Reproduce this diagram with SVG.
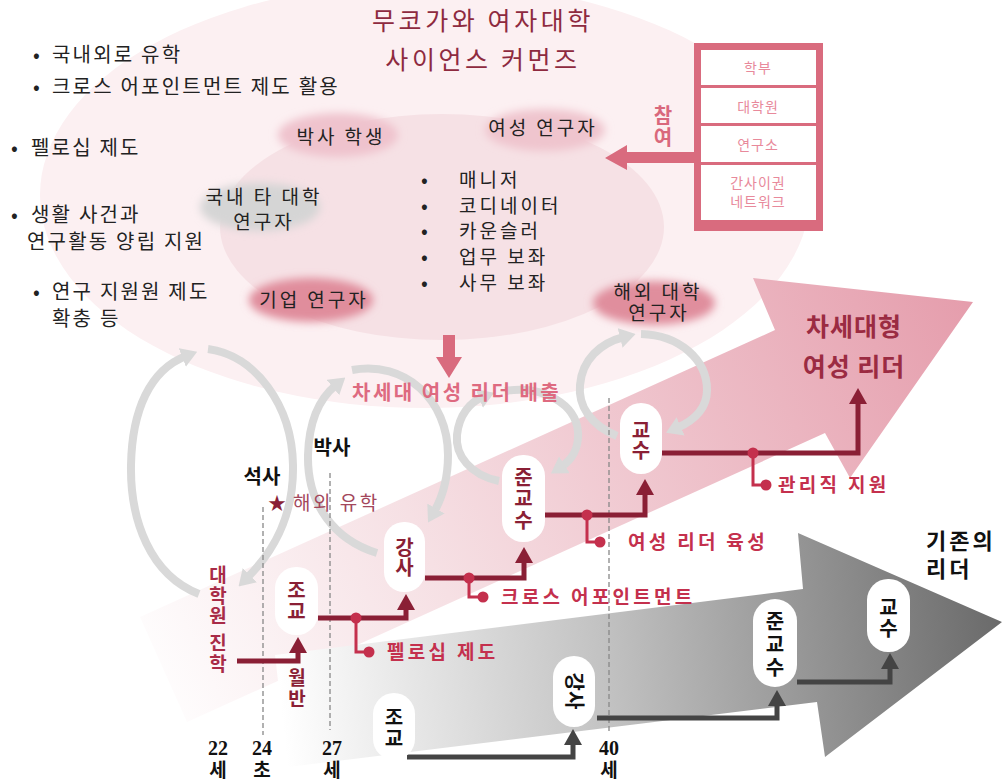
<svg xmlns="http://www.w3.org/2000/svg" width="1003" height="782" viewBox="0 0 1003 782">
<defs>
<style>
text{font-family:"Noto Sans CJK KR","Noto Sans",sans-serif;}
.blk{fill:#222;font-size:20px;letter-spacing:2.2px;}
.lst{fill:#222;font-size:19px;letter-spacing:3px;}
.bl{fill:#222;font-size:20px;}
.box{fill:#e8899b;font-size:14px;letter-spacing:1px;text-anchor:middle;}
.vt{writing-mode:vertical-rl;text-orientation:upright;}
.nd{fill:#8a1f35;font-size:20px;font-weight:700;}
.ndg{fill:#111;font-size:20px;font-weight:700;}
.pill{fill:#fff;}
.lab{fill:#c4304d;font-size:19px;font-weight:700;letter-spacing:3.3px;}
.age{fill:#111;font-size:19px;font-weight:700;text-anchor:middle;}
.num{font-family:"Liberation Serif",serif;font-size:20px;}
.mline{fill:none;stroke:#8a1f35;stroke-width:5;}
.gline{fill:none;stroke:#444;stroke-width:5;}
.br{fill:none;stroke:#c4304d;stroke-width:3;}
.dot{fill:#c4304d;}
.loop{fill:none;stroke:#d9d9d9;stroke-width:8;}
.dash{stroke:#888;stroke-width:1.3;stroke-dasharray:5 3;}
</style>
<filter id="blur" x="-30%" y="-60%" width="160%" height="220%"><feGaussianBlur stdDeviation="4"/></filter>
<linearGradient id="pinkG" gradientUnits="userSpaceOnUse" x1="140" y1="700" x2="973" y2="302">
<stop offset="0" stop-color="#ffffff"/>
<stop offset="0.35" stop-color="#f6e0e4"/>
<stop offset="1" stop-color="#e59dac"/>
</linearGradient>
<linearGradient id="grayG" gradientUnits="userSpaceOnUse" x1="280" y1="700" x2="1002" y2="622">
<stop offset="0" stop-color="#ffffff"/>
<stop offset="0.45" stop-color="#c2c2c2"/>
<stop offset="1" stop-color="#6a6a6a"/>
</linearGradient>
<marker id="am" viewBox="0 0 16 18" refX="2" refY="9" markerWidth="16" markerHeight="18" markerUnits="userSpaceOnUse" orient="auto"><path d="M0,0 L16,9 L0,18 z" fill="#8a1f35"/></marker>
<marker id="ag" viewBox="0 0 16 18" refX="2" refY="9" markerWidth="16" markerHeight="18" markerUnits="userSpaceOnUse" orient="auto"><path d="M0,0 L16,9 L0,18 z" fill="#444"/></marker>
<marker id="al" viewBox="0 0 16 20" refX="4" refY="10" markerWidth="16" markerHeight="20" markerUnits="userSpaceOnUse" orient="auto"><path d="M0,0 L16,10 L0,20 z" fill="#d9d9d9"/></marker>
</defs>

<rect width="1003" height="782" fill="#fff"/>

<g id="commons">
<ellipse cx="425" cy="195" rx="385" ry="213" fill="#fcf0f2"/>
<ellipse cx="442" cy="227" rx="222" ry="113" fill="#f6e1e5"/>
</g>

<g id="pink-arrow"><polygon points="140,617 775,330 753,278 973,302 850,478 825,433 187,722" fill="url(#pinkG)"/></g>
<g id="gray-arrow"><polygon points="275,655 803,589 798,533 1002,622 825,757 817,702 288,767" fill="url(#grayG)"/></g>

<g id="title" fill="#8e2a3f" font-size="25" text-anchor="middle" letter-spacing="3.6">
<text x="483" y="30">무코가와 여자대학</text>
<text x="483" y="69">사이언스 커먼즈</text>
</g>

<g id="left-notes">
<text x="33" y="62" class="bl">•</text><text x="52" y="62" class="blk">국내외로 유학</text>
<text x="33" y="94" class="bl">•</text><text x="52" y="94" class="blk">크로스 어포인트먼트 제도 활용</text>
<text x="11" y="155" class="bl">•</text><text x="31" y="155" class="blk">펠로십 제도</text>
<text x="11" y="222" class="bl">•</text><text class="blk"><tspan x="31" y="222">생활 사건과</tspan><tspan x="27" y="249">연구활동 양립 지원</tspan></text>
<text x="33" y="299" class="bl">•</text><text class="blk"><tspan x="52" y="299">연구 지원원 제도</tspan><tspan x="52" y="326">확충 등</tspan></text>
</g>

<g id="blob-phd"><ellipse cx="338" cy="135" rx="60" ry="22" fill="#efc3cd" filter="url(#blur)"/><text x="341" y="144" class="lst" text-anchor="middle">박사 학생</text></g>
<g id="blob-women"><ellipse cx="545" cy="130" rx="60" ry="21" fill="#efc5ce" filter="url(#blur)"/><text x="543" y="135" class="lst" text-anchor="middle">여성 연구자</text></g>
<g id="blob-domestic"><ellipse cx="260" cy="207" rx="60" ry="24" fill="#d5d5d5" filter="url(#blur)"/><text class="lst" text-anchor="middle"><tspan x="264" y="204">국내 타 대학</tspan><tspan x="264" y="229">연구자</tspan></text></g>
<g id="blob-company"><ellipse cx="311" cy="300" rx="62" ry="22" fill="#e08d9c" filter="url(#blur)"/><text x="314" y="307" class="lst" text-anchor="middle">기업 연구자</text></g>
<g id="blob-overseas"><ellipse cx="654" cy="303" rx="61" ry="22" fill="#e08e9d" filter="url(#blur)"/><text class="lst" text-anchor="middle"><tspan x="658" y="299">해외 대학</tspan><tspan x="659" y="320">연구자</tspan></text></g>

<g id="support-list">
<text x="421" y="187" class="bl" font-size="19">•</text><text x="459" y="187" class="lst">매니저</text>
<text x="421" y="213" class="bl" font-size="19">•</text><text x="459" y="213" class="lst">코디네이터</text>
<text x="421" y="238" class="bl" font-size="19">•</text><text x="459" y="238" class="lst">카운슬러</text>
<text x="421" y="264" class="bl" font-size="19">•</text><text x="459" y="264" class="lst">업무 보좌</text>
<text x="421" y="290" class="bl" font-size="19">•</text><text x="459" y="290" class="lst">사무 보좌</text>
</g>

<g id="partners">
<rect x="694" y="43" width="129" height="188" fill="#d96b7e"/>
<rect x="701" y="50" width="115" height="35" fill="#fff"/>
<rect x="701" y="88" width="115" height="35" fill="#fff"/>
<rect x="701" y="126" width="115" height="36" fill="#fff"/>
<rect x="701" y="165" width="115" height="55" fill="#fff"/>
<text x="758" y="73" class="box">학부</text>
<text x="758" y="112" class="box">대학원</text>
<text x="758" y="150" class="box">연구소</text>
<text class="box"><tspan x="758" y="188">간사이권</tspan><tspan x="758" y="207">네트워크</tspan></text>
</g>
<g id="participate-arrow">
<polygon points="694,152 627,152 627,145 605,158 627,170 627,163 694,163" fill="#d96b7e"/>
<text x="663" y="105" class="vt" fill="#d9687c" font-size="20" font-weight="700" letter-spacing="2">참여</text>
</g>

<g id="output-arrow"><polygon points="443,335 455,335 455,357 462,357 449,378 436,357 443,357" fill="#d96b7e"/></g>

<g id="loops">
<path class="loop" d="M199,594 C150,575 130,520 131,465 C132,410 150,370 186,356" marker-end="url(#al)"/>
<path class="loop" d="M208,349 C255,355 292,405 293,465 C294,515 275,550 247,578" marker-end="url(#al)"/>
<path class="loop" d="M377,553 C335,540 307,505 308,455 C309,420 320,398 336,385" marker-end="url(#al)"/>
<path class="loop" d="M352,370 C405,360 448,400 448,455 C448,480 442,498 434,512" marker-end="url(#al)"/>
<path class="loop" d="M499,481 C470,475 455,455 457,435 C459,415 470,402 483,397" marker-end="url(#al)"/>
<path class="loop" d="M505,391 C545,385 576,405 578,432 C579,448 572,460 561,467" marker-end="url(#al)"/>
<path class="loop" d="M617,436 C590,425 578,405 580,385 C582,360 600,343 624,337" marker-end="url(#al)"/>
<path class="loop" d="M641,334 C680,335 707,360 707,390 C707,408 695,420 677,428" marker-end="url(#al)"/>
</g>

<text id="output-label" x="352" y="400" fill="#de6a80" font-size="20" font-weight="700" letter-spacing="2.5">차세대 여성 리더 배출</text>

<g id="age-lines">
<line class="dash" x1="263" y1="507" x2="263" y2="735"/>
<line class="dash" x1="330" y1="473" x2="330" y2="730"/>
<line class="dash" x1="609" y1="398" x2="609" y2="733"/>
</g>

<g id="connectors">
<path class="mline" d="M237,661 H298 V651" marker-end="url(#am)"/>
<path class="mline" d="M318,618 H406 V608" marker-end="url(#am)"/>
<path class="mline" d="M425,578 H524 V561" marker-end="url(#am)"/>
<path class="mline" d="M545,515 H645 V493" marker-end="url(#am)"/>
<path class="mline" d="M662,453 H858 V402" marker-end="url(#am)"/>
<path class="br" d="M356,618 V652 H369"/>
<path class="br" d="M469,578 V597 H483"/>
<path class="br" d="M587,515 V542 H600"/>
<path class="br" d="M753,453 V485 H766"/>
<circle class="dot" cx="356" cy="618" r="5.5"/><circle class="dot" cx="369" cy="652" r="5.5"/>
<circle class="dot" cx="469" cy="578" r="5.5"/><circle class="dot" cx="483" cy="597" r="5.5"/>
<circle class="dot" cx="587" cy="515" r="5.5"/><circle class="dot" cx="600" cy="542" r="5.5"/>
<circle class="dot" cx="753" cy="453" r="5.5"/><circle class="dot" cx="766" cy="485" r="5.5"/>
<path class="gline" d="M407,757 H573 V743" marker-end="url(#ag)"/>
<path class="gline" d="M597,718 H777 V704" marker-end="url(#ag)"/>
<path class="gline" d="M797,682 H890 V667" marker-end="url(#ag)"/>
</g>

<g id="node-jogyo"><rect class="pill" x="275" y="567" width="43" height="68" rx="21"/><text x="296.5" y="580" class="nd vt" letter-spacing="1">조교</text></g>
<g id="node-gangsa"><rect class="pill" x="384" y="522" width="41" height="70" rx="20"/><text x="404.5" y="537" class="nd vt">강사</text></g>
<g id="node-jungyosu"><rect class="pill" x="502" y="455" width="43" height="87" rx="21"/><text x="523.5" y="467" class="nd vt" letter-spacing="1.5">준교수</text></g>
<g id="node-gyosu"><rect class="pill" x="620" y="403" width="42" height="71" rx="21"/><text x="641" y="420" class="nd vt">교수</text></g>

<g id="node-jogyo-old"><rect class="pill" x="373" y="693" width="42" height="67" rx="21"/><text x="394" y="707" class="ndg vt" letter-spacing="1">조교</text></g>
<g id="node-gangsa-old"><rect class="pill" x="553" y="656" width="42" height="71" rx="21"/><text transform="translate(574,691) rotate(90)" y="7" class="ndg" text-anchor="middle">강사</text></g>
<g id="node-jungyosu-old"><rect class="pill" x="753" y="599" width="44" height="88" rx="22"/><text x="775" y="611" class="ndg vt" letter-spacing="3">준교수</text></g>
<g id="node-gyosu-old"><rect class="pill" x="867" y="579" width="43" height="73" rx="21"/><text x="888.5" y="597" class="ndg vt" letter-spacing="1">교수</text></g>

<g id="labels">
<text x="387" y="659" class="lab">펠로십 제도</text>
<text x="501" y="604" class="lab">크로스 어포인트먼트</text>
<text x="628" y="549" class="lab">여성 리더 육성</text>
<text x="778" y="492" class="lab">관리직 지원</text>
<text x="218" y="565.5" class="vt" fill="#a82b47" font-size="19" font-weight="700" letter-spacing="1.5">대학원<tspan dy="6">진학</tspan></text>
<text x="297" y="668.5" class="vt" fill="#8a1f35" font-size="19" font-weight="700" letter-spacing="2">월반</text>
<text x="262" y="484" fill="#111" font-size="20" font-weight="700" text-anchor="middle">석사</text>
<text x="332" y="455" fill="#111" font-size="20" font-weight="700" text-anchor="middle">박사</text>
<text x="277" y="510" fill="#8a1f35" font-size="18" text-anchor="middle">★</text>
<text x="293" y="510" fill="#a3475c" font-size="19" letter-spacing="2.5">해외 유학</text>
<text fill="#9b2b42" font-size="25" font-weight="700" text-anchor="middle" letter-spacing="1"><tspan x="854" y="336">차세대형</tspan><tspan x="854" y="376">여성 리더</tspan></text>
<text fill="#111" font-size="22" font-weight="700" letter-spacing="3"><tspan x="926" y="549">기존의</tspan><tspan x="926" y="577">리더</tspan></text>
<text class="age"><tspan class="num" x="218" y="755">22</tspan><tspan x="218" y="777">세</tspan></text>
<text class="age"><tspan class="num" x="262" y="755">24</tspan><tspan x="262" y="777">초</tspan></text>
<text class="age"><tspan class="num" x="332" y="755">27</tspan><tspan x="332" y="777">세</tspan></text>
<text class="age"><tspan class="num" x="609" y="755">40</tspan><tspan x="609" y="777">세</tspan></text>
</g>
</svg>
